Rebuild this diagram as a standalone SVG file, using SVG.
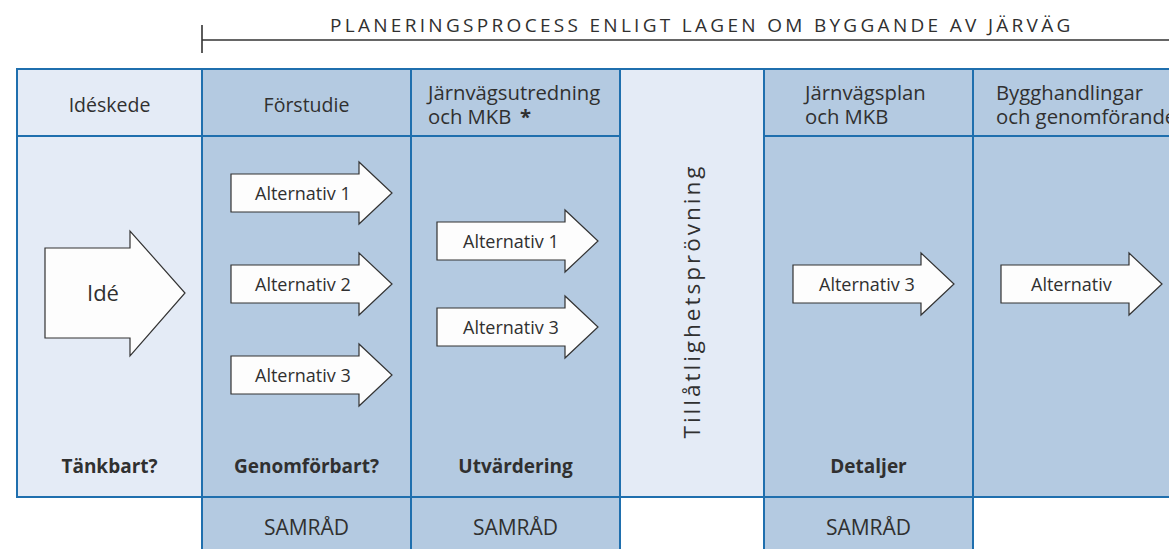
<svg xmlns="http://www.w3.org/2000/svg" width="1169" height="549" viewBox="0 0 1169 549">
  <defs>
    <style>
      .light { fill: #e4ebf6; }
      .dark { fill: #b4cae1; }
      .grid { stroke: #1f6fae; stroke-width: 2; fill: none; }
      .t { font-family: "Open Sans", "Noto Sans", "Liberation Sans", sans-serif; fill: #303030; }
      .hdr { font-size: 19.5px; }
      .hdr2 { font-size: 20.3px; }
      .sam { font-size: 21px; }
      .lbl { font-size: 19px; font-weight: bold; }
      .alt { font-size: 18px; }
      .arrow { fill: #fdfdfd; stroke: #333333; stroke-width: 1.2; stroke-linejoin: miter; }
    </style>
    <path id="altArrow" d="M0,-19 H128 V-31 L161,0 L128,31 V19 H0 Z"/>
  </defs>

  <!-- Title bracket -->
  <g id="title">
    <line x1="202" y1="25" x2="202" y2="53" stroke="#333" stroke-width="1.6"/>
    <line x1="202" y1="40" x2="1169" y2="40" stroke="#333" stroke-width="1.6"/>
    <text class="t" x="330" y="32" font-size="19" letter-spacing="3.3">PLANERINGSPROCESS ENLIGT LAGEN OM BYGGANDE AV JÄRVÄG</text>
  </g>

  <!-- Columns -->
  <g id="col-ideskede">
    <rect class="light" x="17" y="69" width="185" height="428"/>
    <text class="t hdr" x="109.5" y="112" text-anchor="middle">Idéskede</text>
    <text class="t lbl" x="109.5" y="473" text-anchor="middle">Tänkbart?</text>
  </g>
  <g id="col-forstudie">
    <rect class="dark" x="202" y="69" width="209" height="480"/>
    <text class="t hdr" x="306.5" y="112" text-anchor="middle">Förstudie</text>
    <text class="t lbl" x="306.5" y="473" text-anchor="middle">Genomförbart?</text>
    <text class="t sam" x="306.5" y="535" text-anchor="middle">SAMRÅD</text>
  </g>
  <g id="col-jarnvagsutredning">
    <rect class="dark" x="411" y="69" width="209" height="480"/>
    <text class="t hdr2" x="428" y="100">Järnvägsutredning</text>
    <text class="t hdr2" x="428" y="123.5">och MKB <tspan x="520" font-weight="bold">*</tspan></text>
    <text class="t lbl" x="515.5" y="473" text-anchor="middle">Utvärdering</text>
    <text class="t sam" x="515.5" y="535" text-anchor="middle">SAMRÅD</text>
  </g>
  <g id="col-tillatlighetsprovning">
    <rect class="light" x="620" y="69" width="144" height="428"/>
    <text class="t" transform="translate(700,301) rotate(-90)" x="0" y="0" text-anchor="middle" font-size="22.5" letter-spacing="3">Tillåtlighetsprövning</text>
  </g>
  <g id="col-jarnvagsplan">
    <rect class="dark" x="764" y="69" width="209" height="480"/>
    <text class="t hdr2" x="805" y="100">Järnvägsplan</text>
    <text class="t hdr2" x="805" y="123.5">och MKB</text>
    <text class="t lbl" x="868.5" y="473" text-anchor="middle">Detaljer</text>
    <text class="t sam" x="868.5" y="535" text-anchor="middle">SAMRÅD</text>
  </g>
  <g id="col-bygghandlingar">
    <rect class="dark" x="973" y="69" width="200" height="428"/>
    <text class="t hdr2" x="996" y="100">Bygghandlingar</text>
    <text class="t hdr2" x="996" y="123.5">och genomförande</text>
  </g>

  <!-- Grid lines -->
  <g id="connectors" class="grid">
    <line x1="17" y1="69" x2="1169" y2="69"/>
    <line x1="17" y1="497" x2="1169" y2="497"/>
    <line x1="17" y1="136" x2="620" y2="136"/>
    <line x1="764" y1="136" x2="1169" y2="136"/>
    <line x1="17" y1="68" x2="17" y2="498"/>
    <line x1="202" y1="68" x2="202" y2="549"/>
    <line x1="411" y1="68" x2="411" y2="549"/>
    <line x1="620" y1="68" x2="620" y2="549"/>
    <line x1="764" y1="68" x2="764" y2="549"/>
    <line x1="973" y1="68" x2="973" y2="549"/>
  </g>

  <!-- Arrows -->
  <g id="arrow-ide">
    <path class="arrow" d="M45,248 H130 V231 L185,293 L130,356 V338 H45 Z"/>
    <text class="t" x="103" y="301" text-anchor="middle" font-size="22">Idé</text>
  </g>
  <g id="forstudie-alt1">
    <use href="#altArrow" class="arrow" transform="translate(231,193)"/>
    <text class="t alt" x="255" y="200">Alternativ 1</text>
  </g>
  <g id="forstudie-alt2">
    <use href="#altArrow" class="arrow" transform="translate(231,284)"/>
    <text class="t alt" x="255" y="291">Alternativ 2</text>
  </g>
  <g id="forstudie-alt3">
    <use href="#altArrow" class="arrow" transform="translate(231,375)"/>
    <text class="t alt" x="255" y="382">Alternativ 3</text>
  </g>
  <g id="utredning-alt1">
    <use href="#altArrow" class="arrow" transform="translate(437,241)"/>
    <text class="t alt" x="463" y="248">Alternativ 1</text>
  </g>
  <g id="utredning-alt3">
    <use href="#altArrow" class="arrow" transform="translate(437,327)"/>
    <text class="t alt" x="463" y="334">Alternativ 3</text>
  </g>
  <g id="plan-alt3">
    <use href="#altArrow" class="arrow" transform="translate(793,284)"/>
    <text class="t alt" x="819" y="291">Alternativ 3</text>
  </g>
  <g id="bygg-alt">
    <use href="#altArrow" class="arrow" transform="translate(1001,284)"/>
    <text class="t alt" x="1031" y="291">Alternativ</text>
  </g>
</svg>
